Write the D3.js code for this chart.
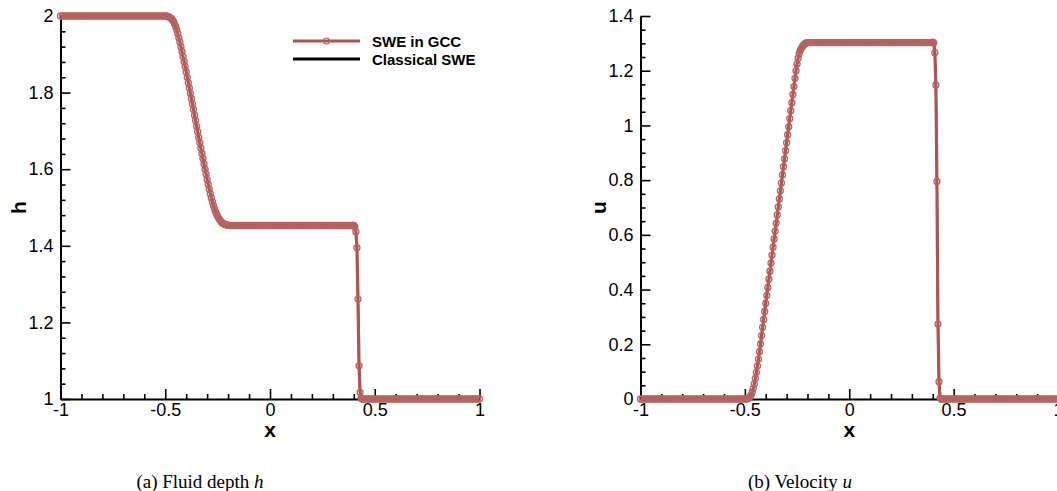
<!DOCTYPE html>
<html>
<head>
<meta charset="utf-8">
<script src="https://cdn.jsdelivr.net/npm/d3@7"></script>
<style>
  body { margin: 0; background: #fff; }
  svg { display: block; }
</style>
</head>
<body>
<svg id="chart" width="1057" height="491"></svg>
<script>
// Cell positions of the 1D dam-break solution (finer where the solution varies)
const xs = [
  -1, -0.99, -0.98, -0.97, -0.96, -0.95, -0.94, -0.93, -0.92, -0.91,
  -0.9, -0.89, -0.88, -0.87, -0.86, -0.85, -0.84, -0.83, -0.82, -0.81,
  -0.8, -0.79, -0.78, -0.77, -0.76, -0.75, -0.74, -0.73, -0.72, -0.71,
  -0.7, -0.69, -0.68, -0.67, -0.66, -0.65, -0.64, -0.63, -0.62, -0.61,
  -0.6, -0.59, -0.58, -0.57, -0.56, -0.55, -0.54, -0.53, -0.52, -0.51,
  -0.5, -0.495, -0.49, -0.485, -0.48, -0.475, -0.47, -0.465, -0.46, -0.455,
  -0.45, -0.445, -0.44, -0.435, -0.43, -0.425, -0.42, -0.415, -0.41, -0.405,
  -0.4, -0.395, -0.39, -0.385, -0.38, -0.375, -0.37, -0.365, -0.36, -0.355,
  -0.35, -0.345, -0.34, -0.335, -0.33, -0.325, -0.32, -0.315, -0.31, -0.305,
  -0.3, -0.295, -0.29, -0.285, -0.28, -0.275, -0.27, -0.265, -0.26, -0.255,
  -0.25, -0.245, -0.24, -0.235, -0.23, -0.225, -0.22, -0.215, -0.21, -0.205,
  -0.2,
  -0.19, -0.18, -0.17, -0.16, -0.15, -0.14, -0.13, -0.12, -0.11, -0.1,
  -0.09, -0.08, -0.07, -0.06, -0.05, -0.04, -0.03, -0.02, -0.01, 0,
  0.01, 0.02, 0.03, 0.04, 0.05, 0.06, 0.07, 0.08, 0.09, 0.1,
  0.11, 0.12, 0.13, 0.14, 0.15, 0.16, 0.17, 0.18, 0.19, 0.2,
  0.21, 0.22, 0.23, 0.24, 0.25, 0.26, 0.27, 0.28, 0.29, 0.3,
  0.31, 0.32, 0.33, 0.34, 0.35, 0.36, 0.37, 0.38, 0.39,
  0.395, 0.4, 0.405, 0.41, 0.415, 0.42, 0.425, 0.43, 0.435, 0.44, 0.445, 0.45,
  0.46, 0.47, 0.48, 0.49, 0.5, 0.51, 0.52, 0.53, 0.54, 0.55,
  0.56, 0.57, 0.58, 0.59, 0.6, 0.61, 0.62, 0.63, 0.64, 0.65,
  0.66, 0.67, 0.68, 0.69, 0.7, 0.71, 0.72, 0.73, 0.74, 0.75,
  0.76, 0.77, 0.78, 0.79, 0.8, 0.81, 0.82, 0.83, 0.84, 0.85,
  0.86, 0.87, 0.88, 0.89, 0.9, 0.91, 0.92, 0.93, 0.94, 0.95,
  0.96, 0.97, 0.98, 0.99, 1
];

// Fluid depth h, SWE in GCC
const depthGCC = [
  2, 2, 2, 2, 2, 2, 2, 2, 2, 2,
  2, 2, 2, 2, 2, 2, 2, 2, 2, 2,
  2, 2, 2, 2, 2, 2, 2, 2, 2, 2,
  2, 2, 2, 2, 2, 2, 2, 2, 2, 2,
  2, 2, 2, 2, 2, 2, 2, 2, 2, 2,
  2.000, 2.000, 1.999, 1.998, 1.997, 1.995, 1.993, 1.989, 1.985, 1.979,
  1.972, 1.964, 1.954, 1.943, 1.932, 1.920, 1.907, 1.894, 1.881, 1.868,
  1.854, 1.840, 1.826, 1.812, 1.798, 1.784, 1.770, 1.756, 1.741, 1.727,
  1.712, 1.698, 1.683, 1.669, 1.655, 1.641, 1.628, 1.614, 1.600, 1.587,
  1.573, 1.560, 1.548, 1.536, 1.525, 1.515, 1.505, 1.497, 1.489, 1.483,
  1.477, 1.472, 1.468, 1.464, 1.461, 1.459, 1.457, 1.456, 1.455, 1.454,
  1.454,
  1.453, 1.453, 1.453, 1.453, 1.453, 1.453, 1.453, 1.453, 1.453, 1.453,
  1.453, 1.453, 1.453, 1.453, 1.453, 1.453, 1.453, 1.453, 1.453, 1.453,
  1.453, 1.453, 1.453, 1.453, 1.453, 1.453, 1.453, 1.453, 1.453, 1.453,
  1.453, 1.453, 1.453, 1.453, 1.453, 1.453, 1.453, 1.453, 1.453, 1.453,
  1.453, 1.453, 1.453, 1.453, 1.453, 1.453, 1.453, 1.453, 1.453, 1.453,
  1.453, 1.453, 1.453, 1.453, 1.453, 1.453, 1.453, 1.453, 1.453,
  1.453, 1.453, 1.450, 1.437, 1.395, 1.261, 1.087, 1.017, 1.002, 1.000, 1, 1,
  1, 1, 1, 1, 1, 1, 1, 1, 1, 1,
  1, 1, 1, 1, 1, 1, 1, 1, 1, 1,
  1, 1, 1, 1, 1, 1, 1, 1, 1, 1,
  1, 1, 1, 1, 1, 1, 1, 1, 1, 1,
  1, 1, 1, 1, 1, 1, 1, 1, 1, 1,
  1, 1, 1, 1, 1
];

// Velocity u, SWE in GCC
const velocityGCC = [
  0, 0, 0, 0, 0, 0, 0, 0, 0, 0,
  0, 0, 0, 0, 0, 0, 0, 0, 0, 0,
  0, 0, 0, 0, 0, 0, 0, 0, 0, 0,
  0, 0, 0, 0, 0, 0, 0, 0, 0, 0,
  0, 0, 0, 0, 0, 0, 0, 0, 0, 0,
  0.000, 0.000, 0.001, 0.002, 0.004, 0.008, 0.015, 0.025, 0.038, 0.055,
  0.075, 0.097, 0.121, 0.146, 0.173, 0.201, 0.232, 0.262, 0.291, 0.320,
  0.350, 0.379, 0.408, 0.438, 0.467, 0.497, 0.526, 0.555, 0.585, 0.614,
  0.643, 0.673, 0.702, 0.731, 0.761, 0.790, 0.819, 0.849, 0.878, 0.907,
  0.937, 0.966, 0.995, 1.025, 1.054, 1.083, 1.113, 1.142, 1.172, 1.200,
  1.225, 1.246, 1.262, 1.273, 1.282, 1.288, 1.293, 1.297, 1.300, 1.302,
  1.303,
  1.303, 1.303, 1.303, 1.303, 1.303, 1.303, 1.303, 1.303, 1.303, 1.303,
  1.303, 1.303, 1.303, 1.303, 1.303, 1.303, 1.303, 1.303, 1.303, 1.303,
  1.303, 1.303, 1.303, 1.303, 1.303, 1.303, 1.303, 1.303, 1.303, 1.303,
  1.303, 1.303, 1.303, 1.303, 1.303, 1.303, 1.303, 1.303, 1.303, 1.303,
  1.303, 1.303, 1.303, 1.303, 1.303, 1.303, 1.303, 1.303, 1.303, 1.303,
  1.303, 1.303, 1.303, 1.303, 1.303, 1.303, 1.303, 1.303, 1.303,
  1.303, 1.304, 1.302, 1.266, 1.148, 0.795, 0.274, 0.063, 0.004, 0, 0, 0,
  0, 0, 0, 0, 0, 0, 0, 0, 0, 0,
  0, 0, 0, 0, 0, 0, 0, 0, 0, 0,
  0, 0, 0, 0, 0, 0, 0, 0, 0, 0,
  0, 0, 0, 0, 0, 0, 0, 0, 0, 0,
  0, 0, 0, 0, 0, 0, 0, 0, 0, 0,
  0, 0, 0, 0, 0
];

// The classical SWE solution coincides with the GCC one at plotting resolution
const depthClassical = depthGCC;
const velocityClassical = velocityGCC;

// Axis ticks and labels
const xTicks = [-1, -0.5, 0, 0.5, 1];
const hTicks = [1, 1.2, 1.4, 1.6, 1.8, 2];
const uTicks = [0, 0.2, 0.4, 0.6, 0.8, 1, 1.2, 1.4];
const seriesNames = ["SWE in GCC", "Classical SWE"];
const captions = [["(a)  Fluid depth ", "h"], ["(b)  Velocity ", "u"]];

const RED = "#af5454";
const MARK = "#b86262";
const SANS = "Liberation Sans, Arial, Helvetica, sans-serif";
const SERIF = "Liberation Serif, Times New Roman, serif";

const svg = d3.select("#chart");

function drawPanel(cfg) {
  const x = d3.scaleLinear().domain([-1, 1]).range(cfg.xRange);
  const y = d3.scaleLinear().domain(cfg.yDomain).range([399, 16]);
  const g = svg.append("g");

  // minor ticks
  const xMinor = d3.range(-1, 1.0001, 0.1).map(v => +v.toFixed(2)).filter(v => !xTicks.includes(v));
  const yMinor = d3.range(cfg.yDomain[0], cfg.yDomain[1] + 1e-6, cfg.yMinorStep)
    .map(v => +v.toFixed(3)).filter(v => !cfg.yTicks.includes(v));

  g.append("g").attr("transform", `translate(0,${y(cfg.yDomain[0])})`)
    .call(d3.axisBottom(x).tickValues(xMinor).tickSize(-5).tickFormat(""))
    .call(a => a.select(".domain").remove());
  g.append("g").attr("transform", `translate(${x(-1)},0)`)
    .call(d3.axisLeft(y).tickValues(yMinor).tickSize(-5).tickFormat(""))
    .call(a => a.select(".domain").remove());

  // major axes
  const xAxis = g.append("g").attr("transform", `translate(0,${y(cfg.yDomain[0])})`)
    .call(d3.axisBottom(x).tickValues(xTicks).tickSize(-10).tickSizeOuter(0)
      .tickPadding(4).tickFormat(d => String(d)));
  const yAxis = g.append("g").attr("transform", `translate(${x(-1)},0)`)
    .call(d3.axisLeft(y).tickValues(cfg.yTicks).tickSize(-10).tickSizeOuter(0)
      .tickPadding(7).tickFormat(d => String(d)));
  [xAxis, yAxis].forEach(a => {
    a.selectAll("text").attr("font-family", SANS).attr("font-size", 18).attr("fill", "#000");
  });
  g.selectAll(".tick line").attr("stroke", "#000").attr("stroke-width", 1.6);
  g.selectAll(".domain").attr("stroke", "#000").attr("stroke-width", 2);

  // axis titles
  g.append("text").attr("x", x(0)).attr("y", 437).attr("text-anchor", "middle")
    .attr("font-family", SANS).attr("font-weight", "bold").attr("font-size", 21).text("x");
  g.append("text").attr("transform", `translate(${cfg.yTitleX},${y((cfg.yDomain[0] + cfg.yDomain[1]) / 2)}) rotate(-90)`)
    .attr("text-anchor", "middle").attr("font-family", SANS).attr("font-weight", "bold")
    .attr("font-size", 21).text(cfg.yTitle);

  const pts = (vals) => xs.map((v, i) => [x(v), y(vals[i])]);
  const line = d3.line();

  // classical solution underneath
  g.append("path").attr("d", line(pts(cfg.classical))).attr("fill", "none")
    .attr("stroke", "#000").attr("stroke-width", 2);
  // GCC solution with circle symbols
  g.append("path").attr("d", line(pts(cfg.gcc))).attr("fill", "none")
    .attr("stroke", RED).attr("stroke-width", 3.2).attr("stroke-linejoin", "round");
  g.append("g").selectAll("circle").data(pts(cfg.gcc)).join("circle")
    .attr("cx", d => d[0]).attr("cy", d => d[1]).attr("r", 3)
    .attr("fill", "none").attr("stroke", MARK).attr("stroke-width", 1.3);

  // caption
  const cap = svg.append("text").attr("x", cfg.captionX).attr("y", 488).attr("text-anchor", "middle")
    .attr("font-family", SERIF).attr("font-size", 19).attr("fill", "#000");
  cap.append("tspan").text(cfg.caption[0]);
  cap.append("tspan").attr("font-style", "italic").text(cfg.caption[1]);
  return g;
}

drawPanel({
  xRange: [60.5, 479.5], yDomain: [1, 2], yTicks: hTicks, yMinorStep: 0.04,
  yTitle: "h", yTitleX: 26, gcc: depthGCC, classical: depthClassical,
  caption: captions[0], captionX: 200
});
drawPanel({
  xRange: [640.5, 1058], yDomain: [0, 1.4], yTicks: uTicks, yMinorStep: 0.05,
  yTitle: "u", yTitleX: 606, gcc: velocityGCC, classical: velocityClassical,
  caption: captions[1], captionX: 800
});

// legend
const legend = svg.append("g");
const rows = [{ y: 41, color: RED, marker: true }, { y: 59, color: "#000", marker: false }];
rows.forEach((r, i) => {
  legend.append("line").attr("x1", 293).attr("x2", 360).attr("y1", r.y).attr("y2", r.y)
    .attr("stroke", r.color).attr("stroke-width", 3);
  if (r.marker) {
    legend.append("circle").attr("cx", 326.5).attr("cy", r.y).attr("r", 3)
      .attr("fill", "none").attr("stroke", MARK).attr("stroke-width", 1.2);
  }
  legend.append("text").attr("x", 372).attr("y", r.y + 5.5)
    .attr("font-family", SANS).attr("font-weight", "bold").attr("font-size", 15)
    .text(seriesNames[i]);
});
</script>
</body>
</html>
